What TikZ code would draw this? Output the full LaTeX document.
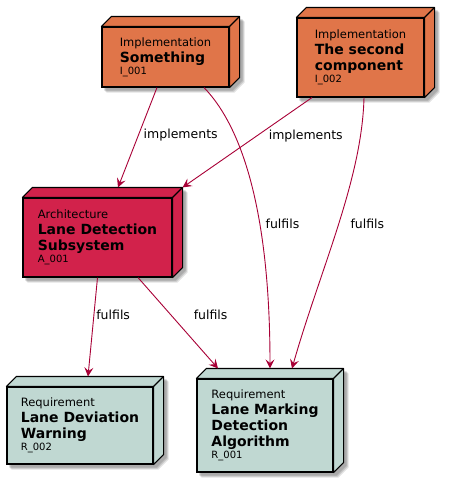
\documentclass[tikz,border=0pt]{standalone}
\usepackage{fontspec}
\setmainfont{DejaVu Sans}
\usetikzlibrary{arrows.meta,backgrounds}
\definecolor{implcol}{RGB}{224,117,73}
\definecolor{archcol}{RGB}{210,34,75}
\definecolor{reqcol}{RGB}{192,216,210}
\definecolor{linkcol}{RGB}{168,0,54}
\newcommand{\eltitle}[1]{{\fontsize{14}{16}\selectfont\bfseries #1}}
\newcommand{\elid}[1]{{\fontsize{10}{12}\selectfont #1}}

\begin{document}
\begin{tikzpicture}[x=1pt,y=-1pt,
    element/.style={draw=black,line width=1.1pt,inner sep=0pt,align=left,
        font=\fontsize{11.5}{16}\selectfont},
    link/.style={draw=linkcol,line width=0.9pt,-{Stealth[length=9pt,width=9pt,inset=3.5pt]}},
    lbl/.style={font=\fontsize{12.5}{14}\selectfont,inner sep=2pt,anchor=west}]
    \useasboundingbox (0,0) rectangle (454,483);

    \node[element,fill=implcol,minimum width=127pt,minimum height=60pt] (impl1) at (165.5,57)
        {Implementation\\\eltitle{Something}\\[-4pt]\elid{I\_001}};
    \node[element,fill=implcol,minimum width=127pt,minimum height=79pt] (impl2) at (360.5,57.5)
        {Implementation\\\eltitle{The second}\\\eltitle{component}\\[-4pt]\elid{I\_002}};
    \node[element,fill=archcol,minimum width=149pt,minimum height=79pt] (arch) at (97.5,237.5)
        {Architecture\\\eltitle{Lane Detection}\\\eltitle{Subsystem}\\[-4pt]\elid{A\_001}};
    \node[element,fill=reqcol,minimum width=146pt,minimum height=77pt] (req2) at (80,425.5)
        {Requirement\\\eltitle{Lane Deviation}\\\eltitle{Warning}\\[-4pt]\elid{R\_002}};
    \node[element,fill=reqcol,minimum width=136pt,minimum height=93pt] (req1) at (265,425.5)
        {Requirement\\\eltitle{Lane Marking}\\\eltitle{Detection}\\\eltitle{Algorithm}\\[-4pt]\elid{R\_001}};

    % top and side faces
    \foreach \n/\c in {impl1/implcol,impl2/implcol,arch/archcol,req2/reqcol,req1/reqcol}{
        \filldraw[fill=\c,line width=1.1pt,line join=round] (\n.north west) -- ([shift={(10pt,10pt)}]\n.north west)
            -- ([shift={(10pt,10pt)}]\n.north east) -- ([shift={(10pt,10pt)}]\n.south east)
            -- (\n.south east) -- (\n.north east) -- cycle;
        \draw[line width=1.1pt] (\n.north east) -- ([shift={(10pt,10pt)}]\n.north east);
    }

    % shadows
    \begin{scope}[on background layer]
        \foreach \n in {impl1,impl2,arch,req2,req1}{
            \foreach \d/\o in {5/0.25,4/0.35,3/0.45}{
                \fill[black!45,opacity=\o] ([shift={(\d pt,-\d pt)}]\n.south west) -- ([shift={(\d pt,-\d pt)}]\n.north west)
                    -- ([shift={(10pt+\d pt,10pt-\d pt)}]\n.north west) -- ([shift={(10pt+\d pt,10pt-\d pt)}]\n.north east)
                    -- ([shift={(10pt+\d pt,10pt-\d pt)}]\n.south east) -- ([shift={(\d pt,-\d pt)}]\n.south east) -- cycle;
            }
        }
    \end{scope}

    \draw[link] ([xshift=-8.5pt]impl1.south) -- ([xshift=20.5pt,yshift=10pt]arch.north)
        node[lbl,pos=0.48,xshift=3pt] (lblA) {implements};
    \draw[link] ([xshift=-48.5pt]impl2.south) -- ([xshift=10pt,yshift=10pt]arch.north east)
        node[lbl,pos=0.43,xshift=10pt] (lblB) {implements};
    \draw[link] ([xshift=38.5pt]impl1.south) .. controls (245,130) and (270,220) .. ([xshift=5pt,yshift=10pt]req1.north)
        node[lbl,pos=0.62,xshift=3.5pt] (lblC) {fulfils};
    \draw[link] ([xshift=3.5pt]impl2.south) .. controls (362,180) and (320,270) .. ([xshift=27pt,yshift=10pt]req1.north)
        node[lbl,pos=0.49,xshift=9.5pt] (lblD) {fulfils};
    \draw[link] (arch.south) -- ([xshift=8pt,yshift=10pt]req2.north)
        node[lbl,pos=0.38,xshift=0pt] (lblE) {fulfils};
    \draw[link] ([xshift=40.5pt]arch.south) -- ([xshift=-47pt,yshift=10pt]req1.north)
        node[lbl,pos=0.41,xshift=20.5pt] (lblF) {fulfils};
\end{tikzpicture}
\end{document}
